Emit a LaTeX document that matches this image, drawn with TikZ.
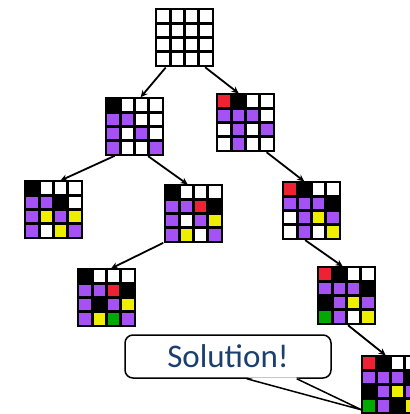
\documentclass[tikz,border=0pt]{standalone}
\usepackage{fontspec}
\setmainfont{Carlito}
\usetikzlibrary{arrows.meta,calc}
\definecolor{cp}{HTML}{A452F4}
\definecolor{cy}{HTML}{EEEE00}
\definecolor{cr}{HTML}{EE2233}
\definecolor{cg}{HTML}{00AA00}
\definecolor{navy}{HTML}{1B3F6E}
\tikzset{
  gridline/.style={line width=2.7pt},
  gridbox/.style={draw,line width=2.7pt,minimum size=57pt,inner sep=0pt,outer sep=0pt},
  arr/.style={line width=1.8pt,-{Stealth[length=7pt,width=6.5pt]},shorten <=2pt,shorten >=1pt},
  callout/.style={draw,line width=1.5pt,rounded corners=8pt,minimum width=206pt,minimum height=43pt,fill=white,inner sep=0pt},
  tail/.style={line width=1.5pt}
}
\newcommand\cellgrid[4]{%
  \foreach \cellcol [count=\i from 0] in {#4} {
    \pgfmathtruncatemacro\gcol{mod(\i,4)}
    \pgfmathtruncatemacro\grow{(\i-\gcol)/4}
    \pgfmathsetmacro\gx{#2+\gcol*14.25}
    \pgfmathsetmacro\gy{#3+\grow*14.25}
    \fill[\cellcol] (\gx,\gy) rectangle ++(14.25,14.25);
  }
  \draw[gridline]
    (#2+14.25,#3) -- (#2+14.25,#3+57)
    (#2+28.5,#3) -- (#2+28.5,#3+57)
    (#2+42.75,#3) -- (#2+42.75,#3+57)
    (#2,#3+14.25) -- (#2+57,#3+14.25)
    (#2,#3+28.5) -- (#2+57,#3+28.5)
    (#2,#3+42.75) -- (#2+57,#3+42.75);
  \node[gridbox] (#1) at (#2+28.5,#3+28.5) {};
}
\begin{document}
\begin{tikzpicture}[x=1pt,y=-1pt]
\useasboundingbox (0,0) rectangle (409,414);
\fill[white] (0,0) rectangle (409,414);
\cellgrid{root}{156}{9}{white,white,white,white,white,white,white,white,white,white,white,white,white,white,white,white}
\cellgrid{gb}{106}{98}{black,white,white,white,cp,cp,white,white,cp,white,cp,white,cp,white,white,cp}
\cellgrid{gc}{217}{94}{cr,black,white,white,cp,cp,cp,white,white,cp,white,cp,white,cp,white,white}
\cellgrid{gd}{25}{181}{black,white,white,white,cp,cp,black,white,cp,cy,cp,cy,cp,white,cy,cp}
\cellgrid{ge}{165}{185}{black,white,white,white,cp,cp,cr,black,cp,white,cp,cy,cp,cy,white,cp}
\cellgrid{gf}{283}{182}{cr,black,white,white,cp,cp,cp,black,white,cp,cy,cp,white,cp,white,cy}
\cellgrid{gg}{78}{269}{black,white,white,white,cp,cp,cr,black,cp,black,cp,cy,cp,cy,cg,cp}
\cellgrid{gh}{318}{267}{cr,black,white,white,cp,cp,cp,black,black,cp,cy,cp,cg,cp,white,cy}
\cellgrid{gi}{362}{356}{cr,black,white,white,cp,cp,cp,black,black,cp,cy,cp,cg,cp,black,cy}

\draw[arr] ([xshift=-17.5pt]root.south) -- ([xshift=5.5pt]gb.north);
\draw[arr] ([xshift=19pt]root.south) -- ([xshift=-6pt]gc.north);
\draw[arr] ([xshift=-18pt]gb.south) -- ([xshift=6pt]gd.north);
\draw[arr] ([xshift=12pt]gb.south) -- ([xshift=-5pt]ge.north);
\draw[arr] ([xshift=19.5pt]gc.south) -- ([xshift=-6.5pt]gf.north);
\draw[arr] ([xshift=-28.5pt]ge.south) -- ([xshift=3.5pt]gg.north);
\draw[arr] ([xshift=-8pt]gf.south) -- ([xshift=-3pt]gh.north);
\draw[arr] (gh.south) -- ([xshift=-4pt]gi.north);

\node[callout] (sol) at (228,356.5) {\fontsize{33}{36}\selectfont\color{navy}Solution!};
\coordinate (tip) at (362,410);
\coordinate (tl) at ([xshift=18.7pt]sol.south);
\coordinate (tr) at ([xshift=68.7pt]sol.south);
\fill[white] ($(tl)+(1,-1.4)$) -- (tip) -- ($(tr)+(-1,-1.4)$) -- cycle;
\draw[tail] (tl) -- (tip) -- (tr);
\end{tikzpicture}
\end{document}
